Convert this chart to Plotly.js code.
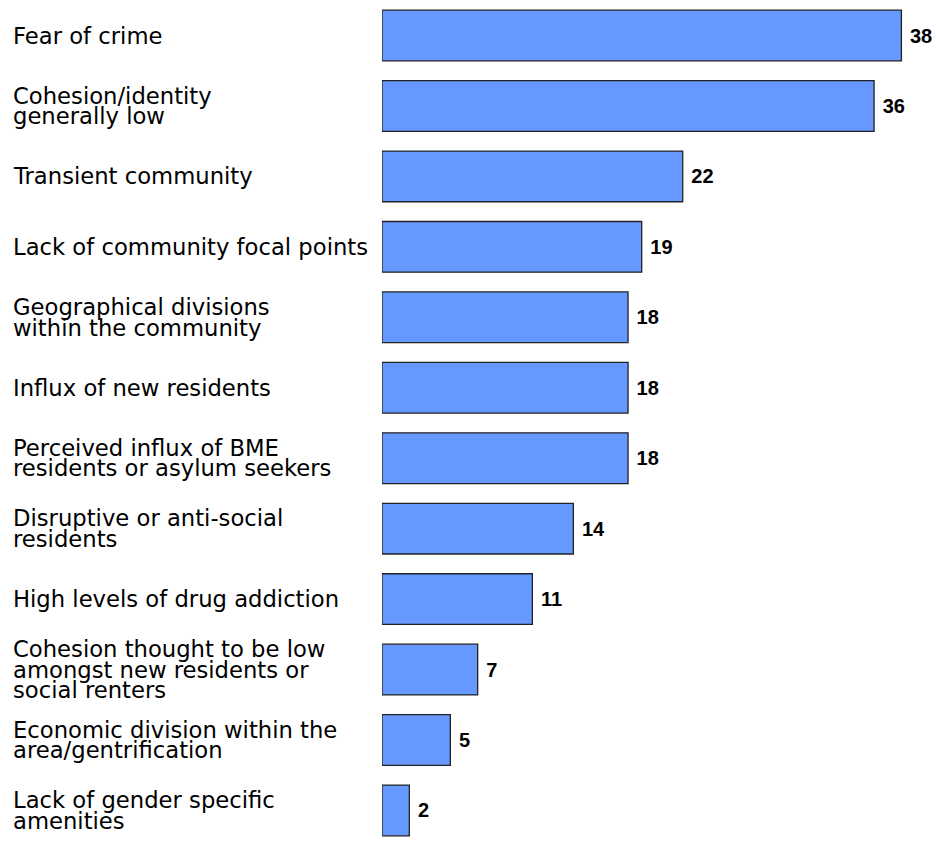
<!DOCTYPE html>
<html>
<head>
<meta charset="utf-8">
<script src="https://cdn.plot.ly/plotly-3.0.1.min.js"></script>
<style>html,body{margin:0;padding:0;background:#fff;}#chart{width:936px;height:842px;}</style>
</head>
<body>
<div id="chart"></div>
<script>
// Category labels (as displayed, line by line)
const labelLines = [
  ["Fear of crime"],
  ["Cohesion/identity", "generally low"],
  ["Transient community"],
  ["Lack of community focal points"],
  ["Geographical divisions", "within the community"],
  ["Influx of new residents"],
  ["Perceived influx of BME", "residents or asylum seekers"],
  ["Disruptive or anti-social", "residents"],
  ["High levels of drug addiction"],
  ["Cohesion thought to be low", "amongst new residents or", "social renters"],
  ["Economic division within the", "area/gentrification"],
  ["Lack of gender specific", "amenities"]
];
const categories = labelLines.map(l => l.join(" "));
const values = [38, 36, 22, 19, 18, 18, 18, 14, 11, 7, 5, 2];

const LABEL_FONT = {family: "DejaVu Sans", size: 22.7, color: "#000"};
const LINE_STEP = 20.5;

const annotations = [];
labelLines.forEach((lines, i) => {
  const n = lines.length;
  lines.forEach((line, k) => {
    annotations.push({
      xref: "paper", x: 0, xanchor: "left", xshift: -371,
      yref: "y", y: categories[i], yanchor: "middle",
      yshift: -(k - (n - 1) / 2) * LINE_STEP,
      text: line, showarrow: false, align: "left",
      font: LABEL_FONT
    });
  });
});

const trace = {
  type: "bar",
  orientation: "h",
  y: categories,
  x: values,
  width: 0.72,
  marker: {color: "#6699FF", line: {color: "#222222", width: 1.3}},
  text: values.map(v => " " + v),
  textposition: "outside",
  textfont: {family: "Liberation Sans", size: 20, color: "#000", weight: "bold"},
  constraintext: "none",
  cliponaxis: false,
  hoverinfo: "none"
};

const layout = {
  width: 936, height: 842,
  margin: {l: 382, r: 0, t: 0, b: 0, pad: 0},
  paper_bgcolor: "#fff", plot_bgcolor: "#fff",
  showlegend: false,
  xaxis: {range: [0, 40.53], visible: false, fixedrange: true},
  yaxis: {type: "category", range: [11.448, -0.504], visible: false, fixedrange: true},
  annotations: annotations
};

Plotly.newPlot("chart", [trace], layout, {displayModeBar: false, staticPlot: true});
</script>
</body>
</html>
